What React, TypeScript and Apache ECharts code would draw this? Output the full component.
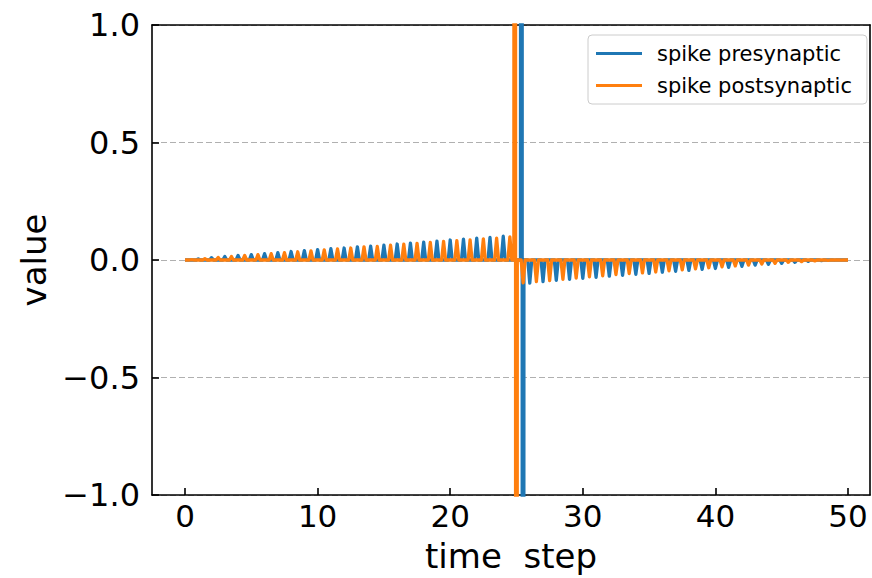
import React, { useEffect, useRef } from "react";
import * as echarts from "echarts";

// Presynaptic (blue) pulses: times and heights
const bluePreTimes = [1, 2, 3, 4, 5, 6, 7, 8, 9, 10, 11, 12, 13, 14, 15, 16, 17, 18, 19, 20, 21, 22, 23, 24];
const bluePreValues = [0.005, 0.010, 0.015, 0.019, 0.023, 0.027, 0.031, 0.036, 0.040, 0.044, 0.048, 0.051, 0.056, 0.059, 0.063, 0.068, 0.072, 0.076, 0.080, 0.085, 0.089, 0.093, 0.096, 0.101];
const bluePostTimes = [26, 27, 28, 29, 30, 31, 32, 33, 34, 35, 36, 37, 38, 39, 40, 41, 42, 43, 44, 45, 46, 47, 48, 49];
const bluePostValues = [-0.098, -0.092, -0.087, -0.082, -0.078, -0.074, -0.069, -0.065, -0.061, -0.057, -0.052, -0.048, -0.044, -0.040, -0.036, -0.031, -0.027, -0.022, -0.018, -0.014, -0.010, -0.006, -0.003, -0.001];
const blueSpikeX = [25.3, 25.42, 25.44, 25.56];
const blueSpikeY = [0, 30, -30, 0];

// Postsynaptic (orange) pulses
const orangePreTimes = [0.5, 1.5, 2.5, 3.5, 4.5, 5.5, 6.5, 7.5, 8.5, 9.5, 10.5, 11.5, 12.5, 13.5, 14.5, 15.5, 16.5, 17.5, 18.5, 19.5, 20.5, 21.5, 22.5, 23.5, 24.5];
const orangePreValues = [0.002, 0.006, 0.011, 0.015, 0.019, 0.023, 0.027, 0.031, 0.035, 0.039, 0.043, 0.047, 0.051, 0.056, 0.058, 0.063, 0.067, 0.071, 0.075, 0.079, 0.082, 0.086, 0.090, 0.093, 0.098];
const orangePostTimes = [25.5, 26.5, 27.5, 28.5, 29.5, 30.5, 31.5, 32.5, 33.5, 34.5, 35.5, 36.5, 37.5, 38.5, 39.5, 40.5, 41.5, 42.5, 43.5, 44.5, 45.5, 46.5, 47.5, 48.5, 49.5];
const orangePostValues = [-0.097, -0.092, -0.088, -0.082, -0.077, -0.072, -0.067, -0.062, -0.058, -0.055, -0.051, -0.046, -0.042, -0.038, -0.033, -0.029, -0.025, -0.022, -0.017, -0.014, -0.010, -0.007, -0.004, -0.002, -0.001];
const orangeSpikeX = [24.8, 24.92, 24.94, 25.06];
const orangeSpikeY = [0, 30, -30, 0];

const xStart = 0;
const xEnd = 50;
const xTicks = [0, 10, 20, 30, 40, 50];
const seriesNames = ["spike presynaptic", "spike postsynaptic"];

const HALF = 0.15;

function build(times: number[][], values: number[][], sx: number[], sy: number[]) {
  const pts: [number, number][] = [[xStart, 0], [xEnd, 0]];
  times.forEach((arr, k) => {
    arr.forEach((t, i) => {
      const h = values[k][i];
      if (t - HALF > xStart) pts.push([t - HALF, 0]);
      pts.push([t, h]);
      if (t + HALF < xEnd) pts.push([t + HALF, 0]);
    });
  });
  sx.forEach((x, i) => pts.push([x, sy[i]]));
  pts.sort((a, b) => a[0] - b[0]);
  return pts;
}

const FONT = "DejaVu Sans";

export default function App() {
  const ref = useRef<HTMLDivElement>(null);
  useEffect(() => {
    if (!ref.current) return;
    const chart = echarts.init(ref.current, undefined, { renderer: "svg" });
    const blueData = build([bluePreTimes, bluePostTimes], [bluePreValues, bluePostValues], blueSpikeX, blueSpikeY);
    const orangeData = build([orangePreTimes, orangePostTimes], [orangePreValues, orangePostValues], orangeSpikeX, orangeSpikeY);
    const fmtY = (v: number) => v.toFixed(1).replace("-", "\u2212");
    chart.setOption({
      animation: false,
      backgroundColor: "#ffffff",
      grid: { left: 152, top: 25, width: 718, height: 472, containLabel: false },
      legend: {
        orient: "vertical",
        left: 588,
        top: 35,
        data: seriesNames,
        icon: "rect",
        itemWidth: 46,
        itemHeight: 3,
        itemGap: 11,
        padding: [8, 15, 8, 8],
        backgroundColor: "rgba(255,255,255,0.8)",
        borderColor: "#cccccc",
        borderWidth: 1,
        borderRadius: 4,
        textStyle: { fontFamily: FONT, fontSize: 21, color: "#000", padding: [0, 0, 0, 10] },
      },
      xAxis: [
        {
          type: "value",
          min: -2.49,
          max: 51.66,
          name: "time  step",
          nameLocation: "middle",
          nameGap: 44,
          nameTextStyle: { fontFamily: FONT, fontSize: 34, color: "#000" },
          axisLine: { show: true, onZero: false, lineStyle: { color: "#000", width: 1.6 } },
          axisTick: { show: true, inside: true, length: 7, customValues: xTicks, lineStyle: { color: "#000", width: 1.6 } },
          axisLabel: { customValues: xTicks, fontFamily: FONT, fontSize: 31, color: "#000", margin: 5 },
          splitLine: { show: false },
        },
        {
          type: "value",
          position: "top",
          min: -2.49,
          max: 51.66,
          axisLine: { show: true, onZero: false, lineStyle: { color: "#000", width: 1.6 } },
          axisTick: { show: false },
          axisLabel: { show: false },
          splitLine: { show: false },
        },
      ],
      yAxis: [
        {
          type: "value",
          min: -1,
          max: 1,
          interval: 0.5,
          name: "value",
          nameLocation: "middle",
          nameGap: 96,
          nameTextStyle: { fontFamily: FONT, fontSize: 34, color: "#000" },
          axisLine: { show: true, onZero: false, lineStyle: { color: "#000", width: 1.6 } },
          axisTick: { show: true, inside: true, length: 7, lineStyle: { color: "#000", width: 1.6 } },
          axisLabel: { formatter: fmtY, fontFamily: FONT, fontSize: 32, color: "#000", margin: 12 },
          splitLine: { show: true, lineStyle: { color: "#b0b0b0", width: 1.2, type: [6, 3] } },
        },
        {
          type: "value",
          position: "right",
          min: -1,
          max: 1,
          axisLine: { show: true, onZero: false, lineStyle: { color: "#000", width: 1.6 } },
          axisTick: { show: false },
          axisLabel: { show: false },
          splitLine: { show: false },
        },
      ],
      series: [
        {
          name: seriesNames[0],
          type: "line",
          data: blueData,
          showSymbol: false,
          symbol: "none",
          clip: true,
          color: "#1f77b4",
          lineStyle: { width: 3.3, color: "#1f77b4", join: "round" },
        },
        {
          name: seriesNames[1],
          type: "line",
          data: orangeData,
          showSymbol: false,
          symbol: "none",
          clip: true,
          color: "#ff7f0e",
          lineStyle: { width: 3.3, color: "#ff7f0e", join: "round" },
        },
      ],
    });
    return () => chart.dispose();
  }, []);
  return <div ref={ref} style={{ position: "absolute", left: 0, top: 0, width: 872, height: 578, background: "#fff" }} />;
}
